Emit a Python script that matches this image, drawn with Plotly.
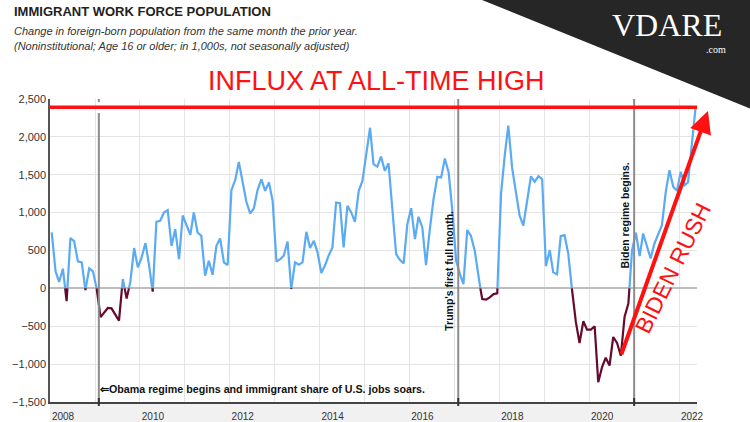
import pandas as pd
import plotly.graph_objects as go

# ---------------- data ----------------
start_month = "2008-01-01"
change = [
    740, 225, 85, 260, -170, 665, 625, 356, 343, -22,
    264, 225, -10, -380, -316, -259, -264, -347, -426, 123,
    -135, 85, 532, 277, 409, 598, 321, -44, 879, 892,
    1002, 1033, 562, 782, 387, 962, 839, 707, 1002, 738,
    694, 167, 365, 180, 562, 659, 343, 308, 1296, 1432,
    1670, 1419, 1147, 989, 1055, 1301, 1441, 1287, 1397, 1156,
    352, 387, 431, 620, -8, 343, 312, 343, 747, 532,
    628, 475, 202, 308, 431, 540, 1134, 1125, 540, 1090,
    1002, 879, 1287, 1419, 1771, 2120, 1639, 1608, 1740, 1551,
    1652, 1050, 453, 378, 330, 848, 1059, 650, 945, 804,
    308, 782, 1178, 1472, 1463, 1714, 1529, 1024, 365, 189,
    57, 769, 694, 497, 145, -141, -149, -119, -75, -66,
    1250, 1771, 2150, 1590, 1300, 960, 830, 1190, 1480, 1406,
    1481, 1441, 294, 505, 211, 185, 690, 703, 461, -20,
    -443, -721, -434, -544, -544, -500, -1239, -1040, -916, -1018,
    -642, -721, -889, -376, -199, 505, 734, 426, 725, 549,
    395, 593, 725, 835, 1274, 1560, 1340, 1290, 1540, 1360,
    1400, 1880, 2380,
]
all_time_high = 2390
events = {
    "obama": "2009-02-01",
    "trump": "2017-02-01",
    "biden": "2021-01-01",
}
year_ticks = ["2008", "2010", "2012", "2014", "2016", "2018", "2020", "2022"]
y_range = [-1500, 2500]
x_range = ["2008-01-01", "2022-05-27"]
arrow_from = ("2020-09-15", -889)
arrow_to = ("2022-08-24", 2342)

BLUE = "#5aaaf4"
MAROON = "#650a2e"
RED = "#ff1111"
TXT = "#333333"
FONT = "Liberation Sans, Arial, sans-serif"

# month positions (plotted mid-month)
months = pd.date_range(start_month, periods=len(change), freq="MS") + pd.Timedelta(days=14)

# split line into positive (blue) and negative (maroon) parts at zero crossings
pos_x, pos_y, neg_x, neg_y = [], [], [], []
for k, (t, v) in enumerate(zip(months, change)):
    if k > 0 and (change[k - 1] >= 0) != (v >= 0):
        t0, v0 = months[k - 1], change[k - 1]
        tc = t0 + (t - t0) * (v0 / (v0 - v))
        pos_x.append(tc); pos_y.append(0)
        neg_x.append(tc); neg_y.append(0)
    if v >= 0:
        pos_x.append(t); pos_y.append(v)
        neg_x.append(t); neg_y.append(None)
    else:
        neg_x.append(t); neg_y.append(v)
        pos_x.append(t); pos_y.append(None)

fig = go.Figure()
fig.add_trace(go.Scatter(x=pos_x, y=pos_y, mode="lines",
                         line=dict(color=BLUE, width=2.2), hoverinfo="skip"))
fig.add_trace(go.Scatter(x=neg_x, y=neg_y, mode="lines",
                         line=dict(color=MAROON, width=2.2), hoverinfo="skip"))

# pixel -> paper helpers (plot area: x 50..697, y 99..402)
L, R, T, B = 50, 53, 99, 20
W, H = 750, 422
PW, PH = W - L - R, H - T - B
def px(xp):
    return (xp - L) / PW
def py(yp):
    return (H - B - yp) / PH

shapes = []
# light band behind x tick labels
shapes.append(dict(type="rect", xref="paper", yref="paper", x0=0, x1=1,
                   y0=py(422), y1=0, fillcolor="#f1f1f1", line_width=0, layer="below"))
# event lines
for key, d in events.items():
    top = py(113) if key == "obama" else 1
    shapes.append(dict(type="line", xref="x", yref="paper", x0=d, x1=d,
                       y0=0, y1=top, line=dict(color="#8c8c8c", width=2)))
    shapes.append(dict(type="line", xref="x", yref="paper", x0=d, x1=d,
                       y0=py(406), y1=py(398), line=dict(color="#333", width=2)))
shapes.append(dict(type="line", xref="x", yref="paper", x0=events["obama"], x1=events["obama"],
                   y0=py(102), y1=1, line=dict(color="#8c8c8c", width=2)))
# all-time-high line
shapes.append(dict(type="line", xref="paper", yref="y", x0=0, x1=1,
                   y0=all_time_high, y1=all_time_high, line=dict(color=RED, width=3.5)))
# dark corner triangle
shapes.append(dict(type="path", xref="paper", yref="paper",
                   path=f"M {px(482)},{py(0)} L {px(751)},{py(0)} L {px(751)},{py(109)} Z",
                   fillcolor="#262626", line_width=0, layer="above"))

ann = []
def text(x, y, s, size, color=TXT, xanchor="left", bold=False, italic=False,
         family=FONT, angle=0, xref="paper", yref="paper", xshift=0):
    ann.append(dict(x=x, y=y, xref=xref, yref=yref, text=s, showarrow=False,
                    xanchor=xanchor, yanchor="middle", textangle=angle, xshift=xshift,
                    font=dict(size=size, color=color, family=family,
                              weight="bold" if bold else "normal",
                              style="italic" if italic else "normal")))

text(px(12), py(12), "IMMIGRANT WORK FORCE POPULATION", 13, color="#222", bold=True)
text(px(12), py(31), "Change in foreign-born population from the same month the prior year.", 11, italic=True)
text(px(12), py(46), "(Noninstitutional; Age 16 or older; in 1,000s, not seasonally adjusted)", 11, italic=True)

text(px(376), py(81), "INFLUX AT ALL-TIME HIGH", 27, color=RED, xanchor="center")
text(px(673), py(268), "BIDEN RUSH", 23, color=RED, xanchor="center", angle=-63.6)

text(px(667), py(25), "VDARE", 32, color="white", xanchor="center",
     family="Liberation Serif, serif")
text(px(728), py(50), ".com", 10, color="white", xanchor="right",
     family="Liberation Serif, serif")

text(events["obama"], -1328, "⇐Obama regime begins and immigrant share of U.S. jobs soars.",
     10.7, color="#111", bold=True, xref="x", yref="y", xshift=-1)
text(events["trump"], 229, "Trump's first full month.", 10.5, color="#111", bold=True,
     xanchor="center", angle=-90, xref="x", yref="y", xshift=-9.5)
text(events["biden"], 958, "Biden regime begins.", 10.5, color="#111", bold=True,
     xanchor="center", angle=-90, xref="x", yref="y", xshift=-9.5)

ann.append(dict(x=arrow_to[0], y=arrow_to[1], ax=arrow_from[0], ay=arrow_from[1],
                xref="x", yref="y", axref="x", ayref="y", text="", showarrow=True,
                arrowhead=2, arrowsize=1.1, arrowwidth=4, arrowcolor=RED, standoff=0))

fig.update_layout(
    width=W, height=H,
    margin=dict(l=L, r=R, t=T, b=B, pad=0, autoexpand=False),
    paper_bgcolor="white", plot_bgcolor="white",
    showlegend=False,
    shapes=shapes, annotations=ann,
    font=dict(family=FONT, color=TXT),
    xaxis=dict(type="date", range=x_range, tickvals=year_ticks, ticktext=year_ticks,
               showgrid=True, gridcolor="#e4e4e4", gridwidth=1,
               minor=dict(dtick="M12", tick0="2008-01-01", showgrid=True,
                          gridcolor="#e4e4e4", gridwidth=1),
               showline=True, linecolor="#444", linewidth=1.5, ticks="",
               tickfont=dict(size=10, color=TXT), ticklabelshift=13, ticklabelstandoff=4,
               zeroline=False, fixedrange=True, automargin=False),
    yaxis=dict(range=y_range, dtick=500, tickformat=",", showgrid=True,
               gridcolor="#e4e4e4", gridwidth=1, zeroline=True, zerolinecolor="#bdbdbd",
               zerolinewidth=2, showline=True, linecolor="#555", linewidth=1.5, ticks="",
               tickfont=dict(size=11, color=TXT), fixedrange=True, automargin=False),
)

fig.write_html("out.html")
